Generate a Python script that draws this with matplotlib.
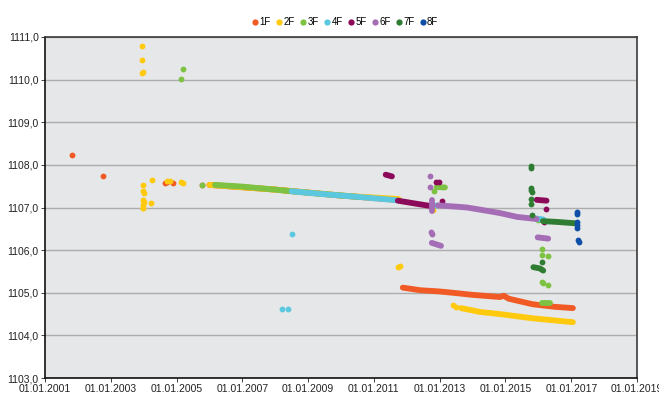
import datetime as dt
import matplotlib
matplotlib.use("Agg")
import matplotlib.pyplot as plt
import matplotlib.dates as mdates
from matplotlib.ticker import FuncFormatter, MultipleLocator, FixedLocator
from matplotlib.lines import Line2D


def yr(y):
    # decimal year -> datetime
    year = int(y)
    start = dt.datetime(year, 1, 1)
    days = (dt.datetime(year + 1, 1, 1) - start).days
    return start + dt.timedelta(days=(y - year) * days)


SERIES = ["1F", "2F", "3F", "4F", "5F", "6F", "7F", "8F"]
COLORS = ["#F15A24", "#FFC90E", "#7DC243", "#5CC8DF",
          "#8C0A5A", "#A46DB5", "#2E7D32", "#0F4FA8"]
TICK_YEARS = [2001, 2003, 2005, 2007, 2009, 2011, 2013, 2015, 2017, 2019]

# single readings: (decimal year, value)
F1_DOTS = [(2001.82, 1108.22), (2002.76, 1107.75), (2004.65, 1107.58),
           (2004.72, 1107.59), (2004.88, 1107.57), (2005.77, 1107.53)]
F2_DOTS = [(2003.95, 1110.79), (2003.95, 1110.46), (2003.95, 1110.15),
           (2003.97, 1110.17), (2003.98, 1107.53), (2003.99, 1107.38),
           (2004.0, 1107.35), (2003.98, 1107.18), (2004.0, 1107.13),
           (2003.99, 1107.05), (2003.97, 1107.0), (2003.98, 1106.98),
           (2004.22, 1107.1), (2004.25, 1107.64), (2004.7, 1107.63),
           (2004.8, 1107.63), (2005.13, 1107.6), (2005.2, 1107.58),
           (2011.73, 1105.6), (2011.8, 1105.62), (2012.8, 1106.94),
           (2013.4, 1104.71), (2013.5, 1104.66)]
F3_DOTS = [(2005.13, 1110.01), (2005.19, 1110.25), (2005.77, 1107.53),
           (2012.82, 1107.39), (2016.1, 1106.02), (2016.1, 1105.88),
           (2016.3, 1105.86), (2016.12, 1105.25), (2016.14, 1105.22),
           (2016.3, 1105.18), (2016.0, 1106.7)]
F4_DOTS = [(2008.52, 1106.37), (2008.2, 1104.61), (2008.38, 1104.63),
           (2012.9, 1107.05)]
F5_DOTS = [(2012.9, 1107.6), (2012.98, 1107.59), (2013.07, 1107.15),
           (2016.22, 1106.96), (2016.18, 1106.66)]
F6_DOTS = [(2012.7, 1107.74), (2012.7, 1107.48), (2012.75, 1106.43),
           (2012.76, 1106.39)]
F7_DOTS = [(2015.77, 1107.97), (2015.77, 1107.93), (2015.77, 1107.45),
           (2015.78, 1107.4), (2015.8, 1107.36), (2015.77, 1107.2),
           (2015.77, 1107.08), (2015.8, 1106.83), (2016.12, 1105.72)]
F8_DOTS = [(2017.17, 1106.9), (2017.17, 1106.85), (2017.17, 1106.67),
           (2017.18, 1106.6), (2017.18, 1106.53), (2017.2, 1106.24),
           (2017.25, 1106.2)]

# dense runs of readings, drawn as continuous tracks
F1_RUNS = [[(2006.0, 1107.53), (2008.0, 1107.42), (2010.0, 1107.28), (2011.7, 1107.18)],
           [(2011.88, 1105.12), (2012.4, 1105.06), (2013.0, 1105.03),
            (2013.52, 1104.99), (2014.0, 1104.95), (2014.5, 1104.92),
            (2014.83, 1104.9), (2014.95, 1104.93), (2015.1, 1104.86),
            (2015.83, 1104.73), (2016.5, 1104.67), (2017.05, 1104.64)]]
F2_RUNS = [[(2006.0, 1107.53), (2008.0, 1107.42), (2010.0, 1107.28), (2011.75, 1107.2)],
           [(2013.65, 1104.64), (2014.22, 1104.55), (2014.83, 1104.5),
            (2015.83, 1104.4), (2017.05, 1104.31)]]
F3_RUNS = [[(2006.17, 1107.53), (2007.0, 1107.49), (2008.0, 1107.42),
            (2008.5, 1107.38), (2010.5, 1107.25)],
           [(2012.91, 1107.48), (2013.16, 1107.47)],
           [(2016.1, 1104.76), (2016.35, 1104.76)]]
F4_RUNS = [[(2008.5, 1107.38), (2009.5, 1107.31), (2010.5, 1107.25), (2011.7, 1107.17)],
           [(2015.85, 1106.75), (2016.15, 1106.72)]]
F5_RUNS = [[(2011.36, 1107.77), (2011.55, 1107.73)],
           [(2011.73, 1107.16), (2012.2, 1107.1), (2012.76, 1107.03)],
           [(2015.95, 1107.18), (2016.25, 1107.16)]]
F6_RUNS = [[(2012.77, 1107.17), (2012.77, 1106.92)],
           [(2012.76, 1106.17), (2013.04, 1106.1)],
           [(2012.95, 1107.05), (2013.5, 1107.02), (2013.83, 1107.0),
            (2014.3, 1106.94), (2014.83, 1106.87), (2015.35, 1106.78),
            (2015.95, 1106.73)],
           [(2015.98, 1106.3), (2016.3, 1106.27)]]
F7_RUNS = [[(2016.14, 1106.68), (2016.6, 1106.66), (2017.11, 1106.63)],
           [(2015.85, 1105.6), (2016.05, 1105.57), (2016.15, 1105.52)]]
F8_RUNS = []

DOTS = [F1_DOTS, F2_DOTS, F3_DOTS, F4_DOTS, F5_DOTS, F6_DOTS, F7_DOTS, F8_DOTS]
RUNS = [F1_RUNS, F2_RUNS, F3_RUNS, F4_RUNS, F5_RUNS, F6_RUNS, F7_RUNS, F8_RUNS]

plt.rcParams['font.family'] = ['Liberation Sans', 'DejaVu Sans']

fig = plt.figure(figsize=(6.59, 3.94), dpi=100)
ax = fig.add_axes([0.0683, 0.0406, 0.8983, 0.8655])
ax.set_facecolor("#E6E7E8")

ms = 4.2
for name, col, dots, runs in zip(SERIES, COLORS, DOTS, RUNS):
    for run in runs:
        ax.plot([yr(p[0]) for p in run], [p[1] for p in run], color=col,
                lw=ms, solid_capstyle="round", solid_joinstyle="round", zorder=3)
    ax.plot([yr(p[0]) for p in dots], [p[1] for p in dots], "o", color=col,
            ms=ms, mew=0, zorder=3)

ax.set_ylim(1103, 1111)
ax.yaxis.set_major_locator(MultipleLocator(1))
ax.yaxis.set_major_formatter(FuncFormatter(lambda v, p: f"{v:.1f}".replace(".", ",")))
ax.set_xlim(dt.datetime(2001, 1, 1), dt.datetime(2019, 1, 1))
ax.xaxis.set_major_locator(FixedLocator(
    [mdates.date2num(dt.datetime(y, 1, 1)) for y in TICK_YEARS]))
ax.xaxis.set_major_formatter(mdates.DateFormatter("%d.%m.%Y"))

ax.grid(axis="y", color="#ADADAD", lw=1)
ax.set_axisbelow(True)
for s in ax.spines.values():
    s.set_color("#3A3A3A")
    s.set_linewidth(1.2)
ax.spines["left"].set_color("#111111")
ax.spines["bottom"].set_color("#111111")
ax.tick_params(axis="both", labelsize=7.5, colors="#222222", length=3, width=0.6, pad=1.5)

handles = [Line2D([], [], ls="none", marker="o", color=c, ms=4.5, mew=0) for c in COLORS]
fig.legend(handles, SERIES, loc="center", bbox_to_anchor=(0.524, 0.944), ncol=8,
           frameon=False, fontsize=7, handletextpad=0.15, columnspacing=0.55,
           handlelength=0.6)

fig.savefig("out.png", dpi=100)
